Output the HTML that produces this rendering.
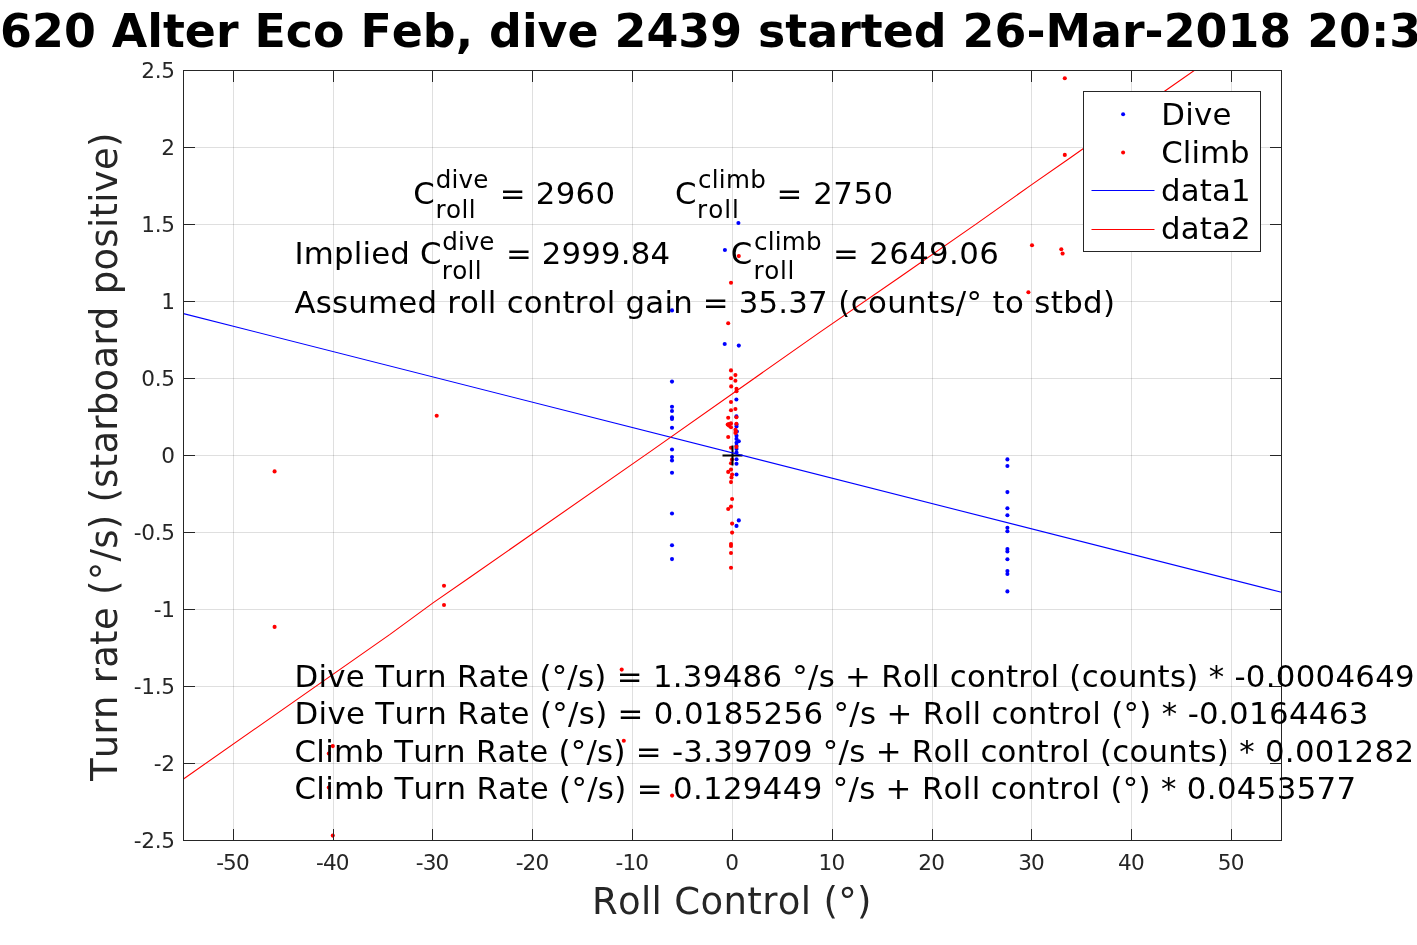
<!DOCTYPE html>
<html lang="en"><head><meta charset="utf-8"><title>Roll control regression</title>
<style>
html,body{margin:0;padding:0;background:#fff;}
body{width:1417px;height:945px;overflow:hidden;}
svg{display:block;font-family:"DejaVu Sans","Liberation Sans",sans-serif;font-kerning:none;font-variant-ligatures:none;will-change:transform;}
text{white-space:pre;}
.tl{font-size:21.6px;fill:#262626;letter-spacing:-0.5px;}
.an{font-size:30.8px;fill:#000;}
.an .ss{font-size:24.6px;}
.g{stroke:#262626;stroke-opacity:0.15;stroke-width:1;}
.ax{stroke:#262626;stroke-width:1;fill:none;}
</style></head><body>
<svg width="1417" height="945" viewBox="0 0 1417 945">
<rect x="0" y="0" width="1417" height="945" fill="#fff"/>
<text x="0.1" y="46.8" font-size="45.85" font-weight="bold" fill="#000">620 Alter Eco Feb, dive 2439 started 26-Mar-2018 20:3</text>
<g class="g">
<line x1="233.5" y1="70.5" x2="233.5" y2="840.5"/>
<line x1="333.5" y1="70.5" x2="333.5" y2="840.5"/>
<line x1="432.5" y1="70.5" x2="432.5" y2="840.5"/>
<line x1="532.5" y1="70.5" x2="532.5" y2="840.5"/>
<line x1="632.5" y1="70.5" x2="632.5" y2="840.5"/>
<line x1="732.5" y1="70.5" x2="732.5" y2="840.5"/>
<line x1="832.5" y1="70.5" x2="832.5" y2="840.5"/>
<line x1="932.5" y1="70.5" x2="932.5" y2="840.5"/>
<line x1="1031.5" y1="70.5" x2="1031.5" y2="840.5"/>
<line x1="1131.5" y1="70.5" x2="1131.5" y2="840.5"/>
<line x1="1231.5" y1="70.5" x2="1231.5" y2="840.5"/>
<line x1="183.5" y1="763.5" x2="1281.5" y2="763.5"/>
<line x1="183.5" y1="686.5" x2="1281.5" y2="686.5"/>
<line x1="183.5" y1="609.5" x2="1281.5" y2="609.5"/>
<line x1="183.5" y1="532.5" x2="1281.5" y2="532.5"/>
<line x1="183.5" y1="455.5" x2="1281.5" y2="455.5"/>
<line x1="183.5" y1="378.5" x2="1281.5" y2="378.5"/>
<line x1="183.5" y1="301.5" x2="1281.5" y2="301.5"/>
<line x1="183.5" y1="224.5" x2="1281.5" y2="224.5"/>
<line x1="183.5" y1="147.5" x2="1281.5" y2="147.5"/>
</g>
<clipPath id="c"><rect x="183.5" y="70.5" width="1098.0" height="770.0"/></clipPath>
<g clip-path="url(#c)">
<g fill="#0000ff">
<circle cx="724.7" cy="344.0" r="2.05"/>
<circle cx="738.8" cy="345.6" r="2.05"/>
<circle cx="672.0" cy="381.6" r="2.05"/>
<circle cx="672.0" cy="406.7" r="2.05"/>
<circle cx="672.0" cy="411.0" r="2.05"/>
<circle cx="672.0" cy="417.4" r="2.05"/>
<circle cx="672.0" cy="418.9" r="2.05"/>
<circle cx="672.0" cy="427.8" r="2.05"/>
<circle cx="672.0" cy="449.5" r="2.05"/>
<circle cx="736.4" cy="399.5" r="2.05"/>
<circle cx="736.4" cy="416.4" r="2.05"/>
<circle cx="736.5" cy="424.6" r="2.05"/>
<circle cx="736.5" cy="426.5" r="2.05"/>
<circle cx="736.9" cy="431.6" r="2.05"/>
<circle cx="736.5" cy="435.7" r="2.05"/>
<circle cx="736.5" cy="438.9" r="2.05"/>
<circle cx="738.8" cy="441.2" r="2.05"/>
<circle cx="736.5" cy="442.7" r="2.05"/>
<circle cx="736.5" cy="445.9" r="2.05"/>
<circle cx="736.5" cy="449.0" r="2.05"/>
<circle cx="736.5" cy="452.6" r="2.05"/>
<circle cx="736.5" cy="459.2" r="2.05"/>
<circle cx="736.5" cy="463.7" r="2.05"/>
<circle cx="736.5" cy="474.5" r="2.05"/>
<circle cx="672.0" cy="457.1" r="2.05"/>
<circle cx="672.0" cy="460.5" r="2.05"/>
<circle cx="672.0" cy="472.8" r="2.05"/>
<circle cx="672.0" cy="513.5" r="2.05"/>
<circle cx="672.0" cy="545.2" r="2.05"/>
<circle cx="672.0" cy="559.1" r="2.05"/>
<circle cx="738.8" cy="520.4" r="2.05"/>
<circle cx="736.5" cy="525.9" r="2.05"/>
<circle cx="738.4" cy="223.0" r="2.05"/>
<circle cx="724.9" cy="250.0" r="2.05"/>
<circle cx="672.0" cy="310.4" r="2.05"/>
<circle cx="1007.4" cy="459.4" r="2.05"/>
<circle cx="1007.4" cy="466.0" r="2.05"/>
<circle cx="1007.4" cy="492.1" r="2.05"/>
<circle cx="1007.4" cy="508.2" r="2.05"/>
<circle cx="1007.4" cy="515.2" r="2.05"/>
<circle cx="1007.4" cy="527.7" r="2.05"/>
<circle cx="1007.4" cy="531.2" r="2.05"/>
<circle cx="1007.4" cy="549.0" r="2.05"/>
<circle cx="1007.4" cy="551.5" r="2.05"/>
<circle cx="1007.4" cy="559.2" r="2.05"/>
<circle cx="1007.4" cy="571.1" r="2.05"/>
<circle cx="1007.4" cy="574.0" r="2.05"/>
<circle cx="1007.4" cy="591.4" r="2.05"/>
</g>
<g fill="#ff0000">
<circle cx="731.0" cy="370.4" r="2.05"/>
<circle cx="735.4" cy="375.1" r="2.05"/>
<circle cx="731.0" cy="378.3" r="2.05"/>
<circle cx="735.4" cy="380.8" r="2.05"/>
<circle cx="731.2" cy="386.4" r="2.05"/>
<circle cx="736.5" cy="388.7" r="2.05"/>
<circle cx="736.5" cy="391.2" r="2.05"/>
<circle cx="731.0" cy="402.0" r="2.05"/>
<circle cx="735.4" cy="409.0" r="2.05"/>
<circle cx="731.0" cy="410.3" r="2.05"/>
<circle cx="728.2" cy="417.8" r="2.05"/>
<circle cx="736.4" cy="417.3" r="2.05"/>
<circle cx="727.7" cy="424.6" r="2.05"/>
<circle cx="729.0" cy="424.0" r="2.05"/>
<circle cx="731.0" cy="423.4" r="2.05"/>
<circle cx="731.0" cy="427.2" r="2.05"/>
<circle cx="729.0" cy="425.6" r="2.05"/>
<circle cx="736.4" cy="423.7" r="2.05"/>
<circle cx="735.4" cy="429.7" r="2.05"/>
<circle cx="735.9" cy="431.6" r="2.05"/>
<circle cx="735.4" cy="432.9" r="2.05"/>
<circle cx="728.2" cy="437.0" r="2.05"/>
<circle cx="731.0" cy="447.8" r="2.05"/>
<circle cx="736.4" cy="446.9" r="2.05"/>
<circle cx="732.0" cy="459.5" r="2.05"/>
<circle cx="731.0" cy="463.3" r="2.05"/>
<circle cx="731.0" cy="469.6" r="2.05"/>
<circle cx="728.2" cy="471.9" r="2.05"/>
<circle cx="732.1" cy="474.5" r="2.05"/>
<circle cx="731.5" cy="477.4" r="2.05"/>
<circle cx="731.0" cy="482.1" r="2.05"/>
<circle cx="732.1" cy="499.0" r="2.05"/>
<circle cx="731.0" cy="506.6" r="2.05"/>
<circle cx="728.2" cy="509.0" r="2.05"/>
<circle cx="732.1" cy="523.6" r="2.05"/>
<circle cx="732.1" cy="532.6" r="2.05"/>
<circle cx="731.0" cy="544.0" r="2.05"/>
<circle cx="731.0" cy="546.0" r="2.05"/>
<circle cx="731.0" cy="553.0" r="2.05"/>
<circle cx="731.0" cy="567.7" r="2.05"/>
<circle cx="738.8" cy="256.1" r="2.05"/>
<circle cx="731.0" cy="282.8" r="2.05"/>
<circle cx="728.2" cy="323.3" r="2.05"/>
<circle cx="274.6" cy="471.4" r="2.05"/>
<circle cx="274.6" cy="626.9" r="2.05"/>
<circle cx="436.7" cy="415.8" r="2.05"/>
<circle cx="444.0" cy="585.7" r="2.05"/>
<circle cx="444.0" cy="605.0" r="2.05"/>
<circle cx="621.7" cy="669.6" r="2.05"/>
<circle cx="623.8" cy="740.8" r="2.05"/>
<circle cx="672.1" cy="795.6" r="2.05"/>
<circle cx="332.8" cy="746.1" r="2.05"/>
<circle cx="328.8" cy="753.5" r="2.05"/>
<circle cx="328.8" cy="787.6" r="2.05"/>
<circle cx="332.8" cy="835.6" r="2.05"/>
<circle cx="1064.8" cy="78.2" r="2.05"/>
<circle cx="1064.8" cy="154.9" r="2.05"/>
<circle cx="1032.0" cy="245.3" r="2.05"/>
<circle cx="1061.3" cy="249.2" r="2.05"/>
<circle cx="1062.6" cy="253.5" r="2.05"/>
<circle cx="1028.4" cy="292.3" r="2.05"/>
</g>
<path d="M722.5 455.5H742.5M732.5 445.5V465.5" stroke="#000" stroke-width="2" fill="none"/>
<line x1="183.5" y1="313.64" x2="1281.5" y2="592.24" stroke="#0000ff" stroke-width="1.1"/>
<polyline points="183.5,778.93 390.0,634.42 433.0,602.83 470.0,577.24 652.0,450.38 820.0,332.12 900.0,276.93 976.0,224.15 1031.0,185.16 1070.0,157.97 1166.0,90.19 1281.5,9.67" fill="none" stroke="#ff0000" stroke-width="1.1"/>
</g>
<rect class="ax" x="183.5" y="70.5" width="1098.0" height="770.0"/>
<path class="ax" d="M233.5 840.5v-11.5M233.5 70.5v11.5M333.5 840.5v-11.5M333.5 70.5v11.5M432.5 840.5v-11.5M432.5 70.5v11.5M532.5 840.5v-11.5M532.5 70.5v11.5M632.5 840.5v-11.5M632.5 70.5v11.5M732.5 840.5v-11.5M732.5 70.5v11.5M832.5 840.5v-11.5M832.5 70.5v11.5M932.5 840.5v-11.5M932.5 70.5v11.5M1031.5 840.5v-11.5M1031.5 70.5v11.5M1131.5 840.5v-11.5M1131.5 70.5v11.5M1231.5 840.5v-11.5M1231.5 70.5v11.5M183.5 763.5h11.5M1281.5 763.5h-11.5M183.5 686.5h11.5M1281.5 686.5h-11.5M183.5 609.5h11.5M1281.5 609.5h-11.5M183.5 532.5h11.5M1281.5 532.5h-11.5M183.5 455.5h11.5M1281.5 455.5h-11.5M183.5 378.5h11.5M1281.5 378.5h-11.5M183.5 301.5h11.5M1281.5 301.5h-11.5M183.5 224.5h11.5M1281.5 224.5h-11.5M183.5 147.5h11.5M1281.5 147.5h-11.5"/>
<g class="tl" text-anchor="middle" style="letter-spacing:-0.9px">
<text x="232.5" y="870">-50</text>
<text x="332.3" y="870">-40</text>
<text x="432.1" y="870">-30</text>
<text x="532.0" y="870">-20</text>
<text x="631.8" y="870">-10</text>
<text x="731.6" y="870">0</text>
<text x="831.4" y="870">10</text>
<text x="931.2" y="870">20</text>
<text x="1031.1" y="870">30</text>
<text x="1130.9" y="870">40</text>
<text x="1230.7" y="870">50</text>
</g>
<g class="tl" text-anchor="end" style="letter-spacing:-0.3px">
<text x="174.8" y="848.4">-2.5</text>
<text x="174.8" y="771.4">-2</text>
<text x="174.8" y="694.4">-1.5</text>
<text x="174.8" y="617.4">-1</text>
<text x="174.8" y="540.4">-0.5</text>
<text x="174.8" y="463.4">0</text>
<text x="174.8" y="386.4">0.5</text>
<text x="174.8" y="309.4">1</text>
<text x="174.8" y="232.4">1.5</text>
<text x="174.8" y="155.4">2</text>
<text x="174.8" y="78.4">2.5</text>
</g>
<text x="591.9" y="913.9" textLength="279.6" lengthAdjust="spacing" font-size="37" fill="#262626">Roll Control (°)</text>
<text transform="translate(117.4 781.1) rotate(-90)" textLength="648.5" lengthAdjust="spacing" font-size="37" fill="#262626">Turn rate (°/s) (starboard positive)</text>
<g class="an">
<text x="413.2" y="203.8">C</text>
<text class="ss" x="435.8" y="188.4" textLength="52.6" lengthAdjust="spacing">dive</text>
<text class="ss" x="435.5" y="218.4" textLength="40.0" lengthAdjust="spacing">roll</text>
<text x="499.7" y="203.8" textLength="115.4" lengthAdjust="spacing">= 2960</text>
<text x="674.9" y="203.8">C</text>
<text class="ss" x="697.9" y="188.4" textLength="68.0" lengthAdjust="spacing">climb</text>
<text class="ss" x="697.1" y="218.4" textLength="41.8" lengthAdjust="spacing">roll</text>
<text x="776.6" y="203.8" textLength="116.6" lengthAdjust="spacing">= 2750</text>
<text x="294.5" y="264.1" textLength="147.0" lengthAdjust="spacing">Implied C</text>
<text class="ss" x="442.3" y="249.7" textLength="52.1" lengthAdjust="spacing">dive</text>
<text class="ss" x="441.8" y="279.1" textLength="39.8" lengthAdjust="spacing">roll</text>
<text x="505.9" y="264.1" textLength="164.2" lengthAdjust="spacing">= 2999.84</text>
<text x="730.8" y="264.1">C</text>
<text class="ss" x="754.0" y="249.7" textLength="67.5" lengthAdjust="spacing">climb</text>
<text class="ss" x="753.5" y="279.1" textLength="40.9" lengthAdjust="spacing">roll</text>
<text x="832.9" y="264.1" textLength="165.9" lengthAdjust="spacing">= 2649.06</text>
<text x="294.5" y="313.1" textLength="398.2" lengthAdjust="spacing">Assumed roll control gain</text>
<text x="702.8" y="313.1" textLength="124.8" lengthAdjust="spacing">= 35.37</text>
<text x="838.3" y="313.1" textLength="276.7" lengthAdjust="spacing">(counts/° to stbd)</text>
<text x="294.5" y="686.5" textLength="1120.2" lengthAdjust="spacing">Dive Turn Rate (°/s) = 1.39486 °/s + Roll control (counts) * -0.0004649</text>
<text x="294.5" y="723.5" textLength="1073.8" lengthAdjust="spacing">Dive Turn Rate (°/s) = 0.0185256 °/s + Roll control (°) * -0.0164463</text>
<text x="294.5" y="762.1" textLength="1119.5" lengthAdjust="spacing">Climb Turn Rate (°/s) = -3.39709 °/s + Roll control (counts) * 0.001282</text>
<text x="294.5" y="798.8" textLength="1061.6" lengthAdjust="spacing">Climb Turn Rate (°/s) = 0.129449 °/s + Roll control (°) * 0.0453577</text>
</g>
<rect x="1083.5" y="91.5" width="177" height="160" fill="#fff" stroke="#262626" stroke-width="1"/>
<circle cx="1123.1" cy="114.3" r="2" fill="#0000ff"/>
<circle cx="1123.1" cy="152.4" r="2" fill="#ff0000"/>
<line x1="1091.5" y1="190.5" x2="1154.5" y2="190.5" stroke="#0000ff" stroke-width="1"/>
<line x1="1091.5" y1="229.5" x2="1154.5" y2="229.5" stroke="#ff0000" stroke-width="1"/>
<g class="an">
<text x="1161.2" y="124.8" textLength="70.2" lengthAdjust="spacing">Dive</text>
<text x="1161.2" y="162.9" textLength="88.4" lengthAdjust="spacing">Climb</text>
<text x="1161.0" y="201.0" textLength="89.6" lengthAdjust="spacing">data1</text>
<text x="1161.0" y="239.0" textLength="89.6" lengthAdjust="spacing">data2</text>
</g>
</svg></body></html>
